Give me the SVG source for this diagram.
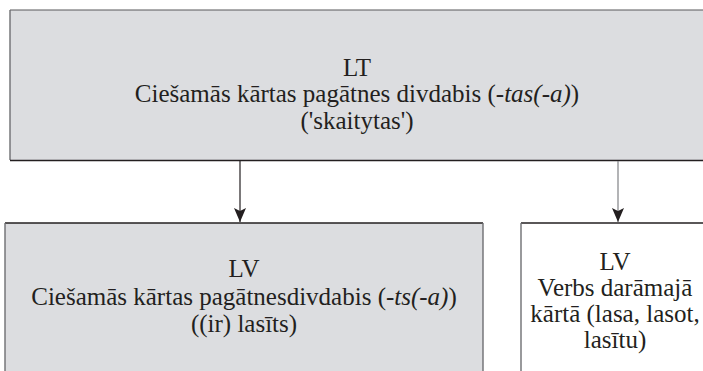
<svg xmlns="http://www.w3.org/2000/svg" width="703" height="371" viewBox="0 0 703 371">
<style>
.t{font-family:'Liberation Serif','Times New Roman',Times,'DejaVu Serif',serif;font-size:25px;fill:#231f20;text-anchor:middle}
.gray{fill:#dcdde0}
.white{fill:#ffffff}
.edge-l{stroke:#6d6e71;stroke-width:1.4}
.edge-t{stroke:#58595b;stroke-width:1.2}
.edge-b{stroke:#231f20;stroke-width:1.4}
.conn{fill:none;stroke-width:1.2}
</style>
<defs>
<marker id="ah" viewBox="0 0 14 12" refX="14" refY="6" markerWidth="14" markerHeight="12" markerUnits="userSpaceOnUse" orient="auto">
<path d="M0,0 L14,6 L0,12 L3,6 Z" fill="#231f20"/>
</marker>
</defs>
<rect width="703" height="371" fill="#ffffff"/>
<g id="node-lt">
<rect class="gray" x="10" y="10" width="700" height="150"/>
<line class="edge-t" x1="10" y1="10" x2="703" y2="10"/>
<line class="edge-l" x1="10" y1="10" x2="10" y2="160"/>
<line class="edge-b" x1="10" y1="160.5" x2="703" y2="160.5"/>
<text class="t" x="357" y="76">LT</text>
<text class="t" x="357" y="102">Ciešamās kārtas pagātnes divdabis (-<tspan font-style="italic">tas(-a)</tspan>)</text>
<text class="t" x="357" y="129">('skaitytas')</text>
</g>
<g id="node-lv1">
<rect class="gray" x="5" y="223" width="478" height="160"/>
<line class="edge-b" x1="5" y1="223" x2="483" y2="223"/>
<line class="edge-l" x1="5" y1="223" x2="5" y2="371"/>
<line class="edge-l" x1="483" y1="223" x2="483" y2="371"/>
<text class="t" x="244" y="277">LV</text>
<text class="t" x="244" y="305">Ciešamās kārtas pagātnesdivdabis (-<tspan font-style="italic">ts(-a)</tspan>)</text>
<text class="t" x="244" y="332">((ir) lasīts)</text>
</g>
<g id="node-lv2">
<rect class="white" x="521" y="223" width="190" height="160"/>
<line class="edge-b" x1="521" y1="223" x2="703" y2="223"/>
<line class="edge-l" x1="521" y1="223" x2="521" y2="371"/>
<text class="t" x="615" y="270">LV</text>
<text class="t" x="615" y="296">Verbs darāmajā</text>
<text class="t" x="615" y="322">kārtā (lasa, lasot,</text>
<text class="t" x="615" y="348">lasītu)</text>
</g>
<g id="connectors">
<line class="conn" x1="240" y1="161" x2="240" y2="222" stroke="#231f20" marker-end="url(#ah)"/>
<line class="conn" x1="618" y1="161" x2="618" y2="222" stroke="#808285" stroke-width="1.6" marker-end="url(#ah)"/>
</g>
</svg>
